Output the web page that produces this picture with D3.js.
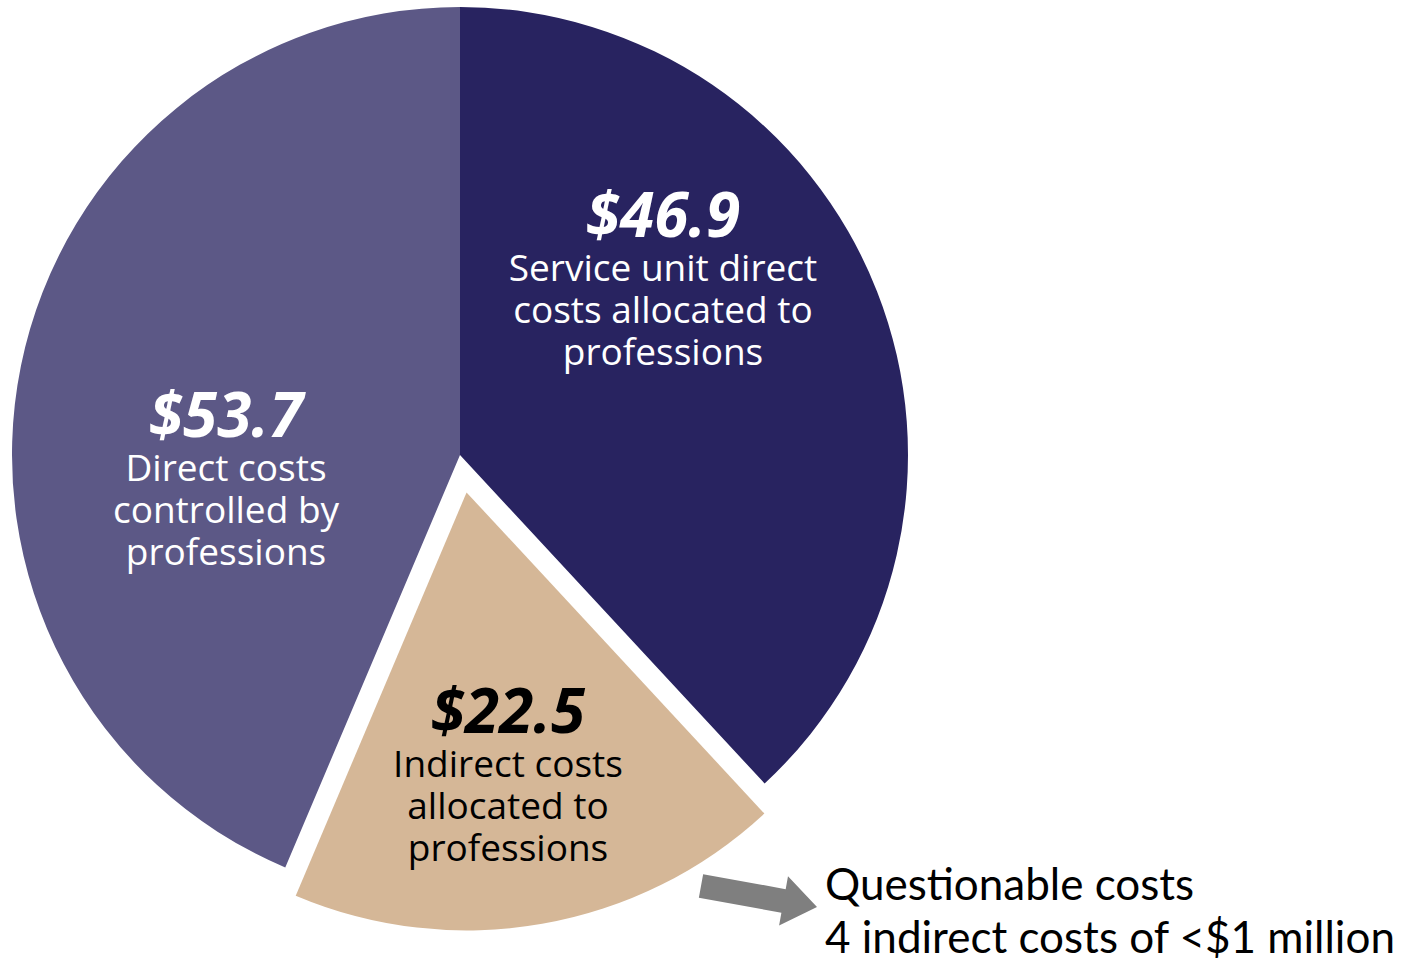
<!DOCTYPE html>
<html>
<head>
<meta charset="utf-8">
<script src="https://cdn.jsdelivr.net/npm/d3@7"></script>
<style>
  body { margin: 0; background: #fff; }
  svg { display: block; }
  text { font-family: "Open Sans", "Noto Sans", sans-serif; }
</style>
</head>
<body>
<div id="chart"></div>
<script>
const categories = ['Service unit direct costs allocated to professions', 'Indirect costs allocated to professions', 'Direct costs controlled by professions'];
const values = [46.9, 22.5, 53.7];
const valueLabels = ['$46.9', '$22.5', '$53.7'];
const labelLines = [
  ['Service unit direct', 'costs allocated to', 'professions'],
  ['Indirect costs', 'allocated to', 'professions'],
  ['Direct costs', 'controlled by', 'professions']
];
const colors = ['#282360', '#d5b797', '#5c5886'];
const textColors = ['#fff', '#000', '#fff'];
const exploded = [false, true, false];
const noteLines = ['Questionable costs', '4 indirect costs of <$1 million'];

const width = 1410, height = 960;
const cx = 460, cy = 455, radius = 448;

const svg = d3.select('#chart').append('svg')
  .attr('width', width)
  .attr('height', height);

const data = categories.map((c, i) => ({ name: c, value: values[i], i }));

const pie = d3.pie().value(d => d.value).sort(null);
const arcs = pie(data);

const arcFull = d3.arc().innerRadius(0).outerRadius(radius);
const arcSmall = d3.arc().innerRadius(0).outerRadius(radius - 10);

const g = svg.append('g').attr('transform', `translate(${cx},${cy})`);

const offset = 38;
const shift = d => {
  if (!exploded[d.data.i]) return [0, 0];
  const a = (d.startAngle + d.endAngle) / 2;
  return [Math.sin(a) * offset, -Math.cos(a) * offset];
};

g.selectAll('path')
  .data(arcs)
  .join('path')
  .attr('d', d => exploded[d.data.i] ? arcSmall(d) : arcFull(d))
  .attr('fill', d => colors[d.data.i])
  .attr('transform', d => `translate(${shift(d)})`);

// label anchor points, relative to centre
const labelPos = [[203, -218], [48, 278], [-234, -18]];

const labels = g.selectAll('g.lab')
  .data(arcs)
  .join('g')
  .attr('class', 'lab')
  .attr('transform', d => `translate(${labelPos[d.data.i]})`)
  .attr('text-anchor', 'middle');

labels.append('text')
  .attr('font-size', 62)
  .attr('font-weight', 'bold')
  .attr('font-style', 'italic')
  .attr('fill', d => textColors[d.data.i])
  .text(d => valueLabels[d.data.i]);

labels.each(function (d) {
  d3.select(this).selectAll('text.line')
    .data(labelLines[d.data.i])
    .join('text')
    .attr('class', 'line')
    .attr('y', (t, j) => 44 + j * 42)
    .attr('font-size', 37)
    .attr('fill', textColors[d.data.i])
    .text(t => t);
});

// arrow pointing at the note
const ax = 701, ay = 886, bx = 817, by = 907;
const ang = Math.atan2(by - ay, bx - ax) * 180 / Math.PI;
const len = Math.hypot(bx - ax, by - ay);
const headLen = 34, shaftW = 12, headW = 25;
svg.append('path')
  .attr('transform', `translate(${ax},${ay}) rotate(${ang})`)
  .attr('d', `M0,${-shaftW}L${len - headLen},${-shaftW}L${len - headLen},${-headW}L${len},0L${len - headLen},${headW}L${len - headLen},${shaftW}L0,${shaftW}Z`)
  .attr('fill', '#7f7f7f');

svg.append('g')
  .selectAll('text')
  .data(noteLines)
  .join('text')
  .attr('x', 825)
  .attr('y', (d, i) => 900 + i * 53)
  .attr('font-size', 44)
  .attr('fill', '#000')
  .style('font-family', 'Lato, "Open Sans", sans-serif')
  .text(d => d);
</script>
</body>
</html>
